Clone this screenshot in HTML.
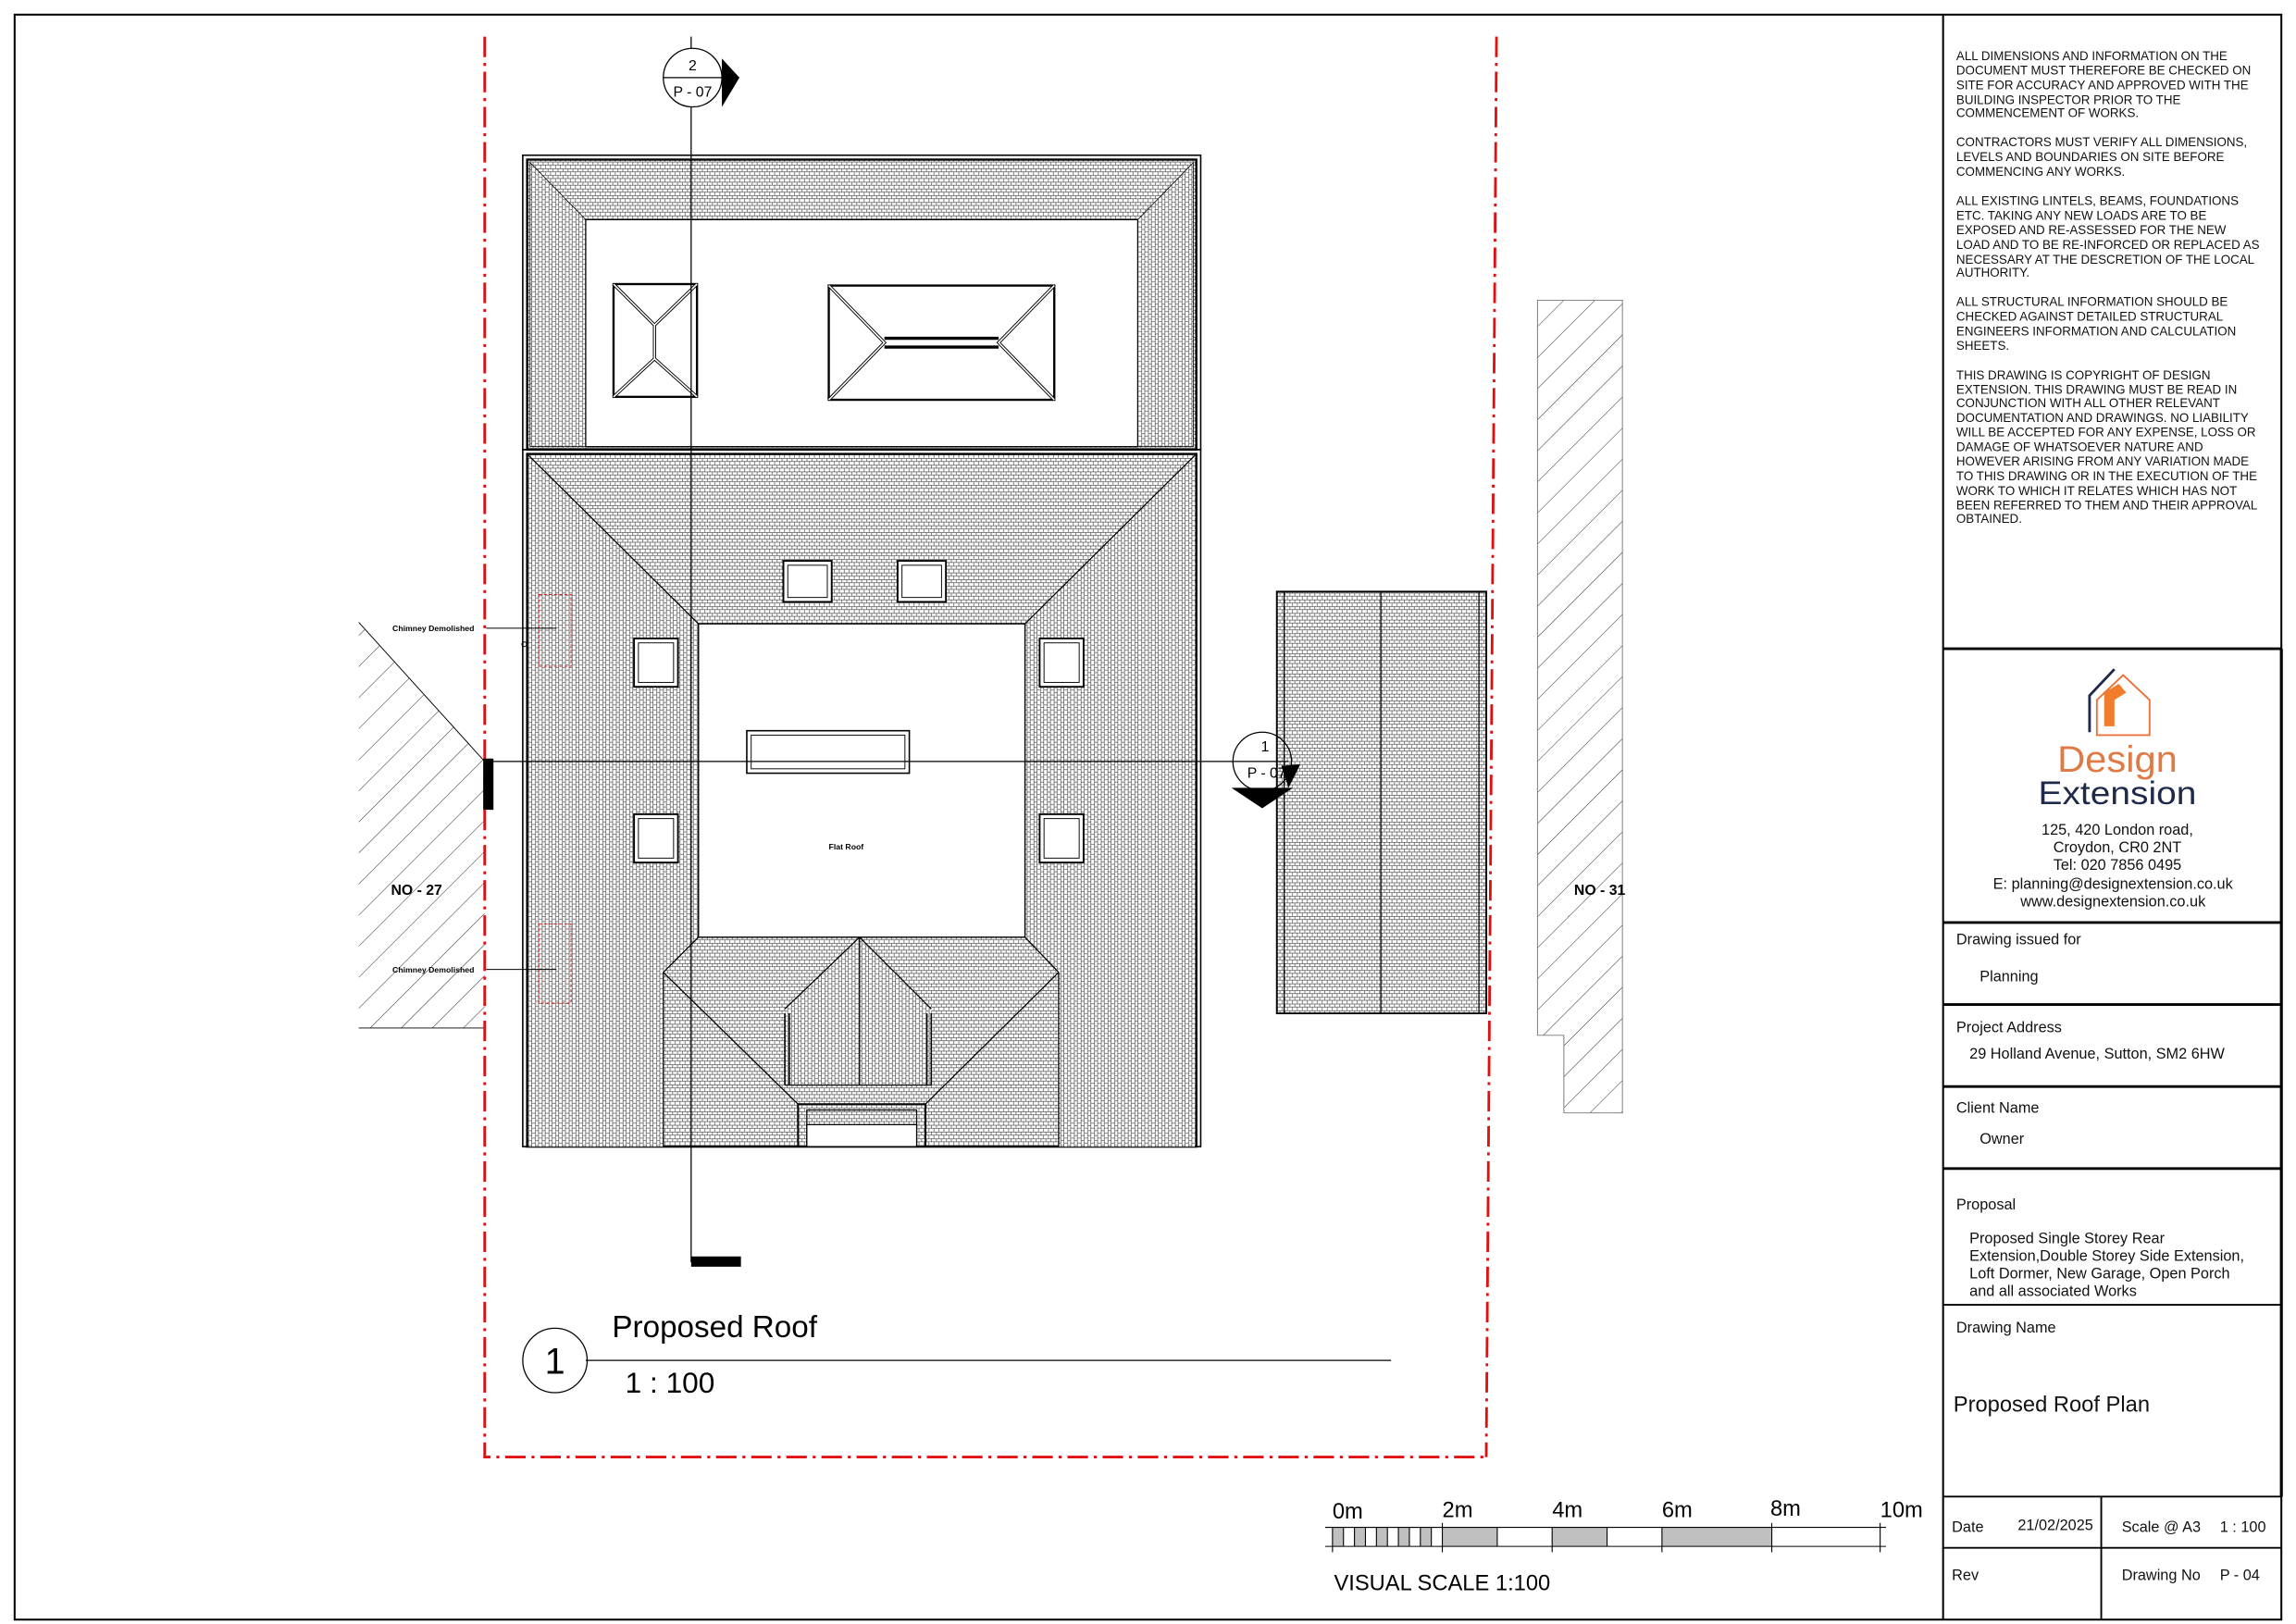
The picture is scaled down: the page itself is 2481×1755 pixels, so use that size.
<!DOCTYPE html>
<html><head><meta charset="utf-8"><style>
html,body{margin:0;padding:0;background:#fff}
svg{display:block}
text{font-family:"Liberation Sans",Arial,sans-serif}
</style></head><body>
<svg width="2481" height="1755" viewBox="0 0 1568 1109" preserveAspectRatio="none" xmlns="http://www.w3.org/2000/svg">
<defs>
<pattern id="tv" width="3.4" height="4.6" patternUnits="userSpaceOnUse">
<rect width="3.4" height="4.6" fill="#fff"/>
<path d="M0 0.25H3.4M0.3 0V2.3M2 2.3V4.6M0 2.3H3.4" stroke="#555" stroke-width="0.45" fill="none"/>
</pattern>
<pattern id="th" width="3.4" height="4.6" patternUnits="userSpaceOnUse" patternTransform="rotate(90)">
<rect width="3.4" height="4.6" fill="#fff"/>
<path d="M0 0.25H3.4M0.3 0V2.3M2 2.3V4.6M0 2.3H3.4" stroke="#555" stroke-width="0.45" fill="none"/>
</pattern>
<pattern id="hat" width="15" height="15" patternUnits="userSpaceOnUse" patternTransform="rotate(45)">
<line x1="0" y1="0" x2="0" y2="15" stroke="#222" stroke-width="0.6"/>
</pattern>
</defs>

<rect x="10" y="10" width="1548" height="1096" fill="none" stroke="#000" stroke-width="1.3"/>
<line x1="1327" y1="10" x2="1327" y2="1106" stroke="#000" stroke-width="1.3"/>
<g stroke="#000" stroke-width="1.2">
<line x1="1327" y1="443" x2="1558" y2="443" stroke-width="1.8"/>
<line x1="1327" y1="630" x2="1558" y2="630" stroke-width="1.8"/>
<line x1="1327" y1="686" x2="1558" y2="686" stroke-width="1.8"/>
<line x1="1327" y1="742" x2="1558" y2="742" stroke-width="1.8"/>
<line x1="1327" y1="798" x2="1558" y2="798" stroke-width="1.8"/>
<line x1="1327" y1="891" x2="1558" y2="891"/>
<line x1="1327" y1="1022" x2="1558" y2="1022"/>
<line x1="1327" y1="1057" x2="1558" y2="1057"/>
<line x1="1435" y1="1022" x2="1435" y2="1106"/>
<line x1="1558" y1="443" x2="1558" y2="1022" stroke-width="2"/>
</g>

<g font-size="8.45" fill="#111">
<text x="1336" y="41">ALL DIMENSIONS AND INFORMATION ON THE</text>
<text x="1336" y="51">DOCUMENT MUST THEREFORE BE CHECKED ON</text>
<text x="1336" y="61">SITE FOR ACCURACY AND APPROVED WITH THE</text>
<text x="1336" y="71">BUILDING INSPECTOR PRIOR TO THE</text>
<text x="1336" y="80">COMMENCEMENT OF WORKS.</text>
<text x="1336" y="100">CONTRACTORS MUST VERIFY ALL DIMENSIONS,</text>
<text x="1336" y="110">LEVELS AND BOUNDARIES ON SITE BEFORE</text>
<text x="1336" y="120">COMMENCING ANY WORKS.</text>
<text x="1336" y="140">ALL EXISTING LINTELS, BEAMS, FOUNDATIONS</text>
<text x="1336" y="150">ETC. TAKING ANY NEW LOADS ARE TO BE</text>
<text x="1336" y="160">EXPOSED AND RE-ASSESSED FOR THE NEW</text>
<text x="1336" y="170">LOAD AND TO BE RE-INFORCED OR REPLACED AS</text>
<text x="1336" y="180">NECESSARY AT THE DESCRETION OF THE LOCAL</text>
<text x="1336" y="189">AUTHORITY.</text>
<text x="1336" y="209">ALL STRUCTURAL INFORMATION SHOULD BE</text>
<text x="1336" y="219">CHECKED AGAINST DETAILED STRUCTURAL</text>
<text x="1336" y="229">ENGINEERS INFORMATION AND CALCULATION</text>
<text x="1336" y="239">SHEETS.</text>
<text x="1336" y="259">THIS DRAWING IS COPYRIGHT OF DESIGN</text>
<text x="1336" y="269">EXTENSION. THIS DRAWING MUST BE READ IN</text>
<text x="1336" y="278">CONJUNCTION WITH ALL OTHER RELEVANT</text>
<text x="1336" y="288">DOCUMENTATION AND DRAWINGS. NO LIABILITY</text>
<text x="1336" y="298">WILL BE ACCEPTED FOR ANY EXPENSE, LOSS OR</text>
<text x="1336" y="308">DAMAGE OF WHATSOEVER NATURE AND</text>
<text x="1336" y="318">HOWEVER ARISING FROM ANY VARIATION MADE</text>
<text x="1336" y="328">TO THIS DRAWING OR IN THE EXECUTION OF THE</text>
<text x="1336" y="338">WORK TO WHICH IT RELATES WHICH HAS NOT</text>
<text x="1336" y="348">BEEN REFERRED TO THEM AND THEIR APPROVAL</text>
<text x="1336" y="357">OBTAINED.</text>
</g>

<path d="M1444 457 L1427 475 L1427 500" fill="none" stroke="#1f2a4a" stroke-width="1.8"/>
<path d="M1432 502 V478 L1450 461 L1468 478 V502 Z" fill="none" stroke="#e8733a" stroke-width="1.2"/>
<path d="M1437 473 L1447 467 L1452 473 L1444 478 V496 H1437 Z" fill="#f07c2c"/>
<text x="1446" y="527" font-size="25" fill="#e07a45" text-anchor="middle" textLength="82" lengthAdjust="spacingAndGlyphs">Design</text>
<text x="1446" y="549" font-size="22" fill="#1f2a4a" text-anchor="middle" textLength="108" lengthAdjust="spacingAndGlyphs">Extension</text>
<g font-size="10.3" fill="#111" text-anchor="middle">
<text x="1446" y="570">125, 420 London road,</text>
<text x="1446" y="582">Croydon, CR0 2NT</text>
<text x="1446" y="594">Tel:   020 7856 0495</text>
<text x="1443" y="607">E: planning@designextension.co.uk</text>
<text x="1443" y="619">www.designextension.co.uk</text>
</g>

<g font-size="10.3" fill="#111">
<text x="1336" y="645">Drawing issued for</text>
<text x="1352" y="670">Planning</text>
<text x="1336" y="705">Project Address</text>
<text x="1345" y="723">29 Holland Avenue, Sutton, SM2 6HW</text>
<text x="1336" y="760">Client Name</text>
<text x="1352" y="781">Owner</text>
<text x="1336" y="826">Proposal</text>
<text x="1345" y="849">Proposed Single Storey Rear</text>
<text x="1345" y="861">Extension,Double Storey Side Extension,</text>
<text x="1345" y="873">Loft Dormer, New Garage, Open Porch</text>
<text x="1345" y="885">and all associated Works</text>
<text x="1336" y="910">Drawing Name</text>
<text x="1334" y="964" font-size="15">Proposed Roof Plan</text>
<text x="1333" y="1046">Date</text>
<text x="1378" y="1045">21/02/2025</text>
<text x="1449" y="1046">Scale @ A3</text>
<text x="1516" y="1046">1 : 100</text>
<text x="1333" y="1079">Rev</text>
<text x="1449" y="1079">Drawing No</text>
<text x="1516" y="1079">P - 04</text>
</g>

<path d="M245 425 L331 520 L331 702 L245 702 Z" fill="url(#hat)"/>
<path d="M245 425 L331 520" stroke="#000" stroke-width="0.6"/>
<line x1="245" y1="702" x2="331" y2="702" stroke="#000" stroke-width="0.6"/>
<path d="M1050 205 H1108 V760 H1068 V707 H1050 Z" fill="url(#hat)" stroke="#777" stroke-width="0.6"/>
<text x="267" y="611" font-size="10" font-weight="bold">NO - 27</text>
<text x="1075" y="611" font-size="10" font-weight="bold">NO - 31</text>

<rect x="872" y="404" width="143" height="288" fill="url(#tv)" stroke="#000" stroke-width="1.2"/>
<line x1="877" y1="404" x2="877" y2="692" stroke="#000" stroke-width="0.8"/>
<line x1="1010" y1="404" x2="1010" y2="692" stroke="#000" stroke-width="0.8"/>
<line x1="943" y1="404" x2="943" y2="692" stroke="#000" stroke-width="0.8"/>

<rect x="357" y="106" width="463" height="201" fill="none" stroke="#000" stroke-width="1"/>
<rect x="360" y="109" width="457" height="198" fill="url(#tv)" stroke="#000" stroke-width="1.5"/>
<path d="M362 111 L400 150 V305 H362 Z" fill="url(#th)" stroke="#000" stroke-width="0.5"/>
<path d="M815 111 L777 150 V305 H815 Z" fill="url(#th)" stroke="#000" stroke-width="0.5"/>
<rect x="400" y="150" width="377" height="155" fill="#fff" stroke="#000" stroke-width="0.8"/>
<rect x="419" y="194" width="57" height="77" fill="#fff" stroke="#000" stroke-width="1.5"/>
<g stroke="#000" stroke-width="2.2" fill="none"><path d="M419 194 L447 222 L476 194 M419 271 L447 245 L476 271 M447 222 V245"/></g>
<g stroke="#fff" stroke-width="1" fill="none"><path d="M419 194 L447 222 L476 194 M419 271 L447 245 L476 271 M447 222 V245"/></g>
<rect x="566" y="195" width="154" height="78" fill="#fff" stroke="#000" stroke-width="1.5"/>
<g stroke="#000" stroke-width="2.2" fill="none"><path d="M566 195 L604 234 L566 273 M720 195 L682 234 L720 273 M604 231 H682 M604 237 H682"/></g>
<g stroke="#fff" stroke-width="1" fill="none"><path d="M566 195 L604 234 L566 273 M720 195 L682 234 L720 273"/></g>

<rect x="357" y="307" width="463" height="476" fill="none" stroke="#000" stroke-width="1"/>
<rect x="360" y="310" width="457" height="473" fill="url(#tv)" stroke="#000" stroke-width="1.5"/>
<path d="M361 311 L477 426 V640 L453 664 V783 H361 Z" fill="url(#th)"/>
<path d="M816 311 L700 426 V640 L723 664 V783 H816 Z" fill="url(#th)"/>
<path d="M536 689 L587 640 L636 689 V741 H536 Z" fill="url(#th)"/>
<g stroke="#000" stroke-width="0.8" fill="none">
<path d="M361 311 L477 426 M816 311 L700 426"/>
<path d="M453 664 L477 640 M723 664 L700 640 M453 664 V783 M723 664 V783"/>
<path d="M453 664 L545 754 M723 664 L632 754"/>
<path d="M587 640 L536 689 M587 640 L636 689 M587 640 V741 M536 741 H636"/>
<path d="M536 692 V741 M539 692 V741 M633 692 V741 M636 692 V741" stroke-width="1"/>
</g>
<rect x="477" y="426" width="223" height="214" fill="#fff" stroke="#000" stroke-width="0.9"/>
<text x="566" y="580" font-size="5.5" font-weight="bold">Flat Roof</text>
<rect x="510" y="499" width="111" height="29" fill="#fff" stroke="#000" stroke-width="1"/>
<rect x="513" y="502" width="105" height="23" fill="none" stroke="#000" stroke-width="0.6"/>
<rect x="545" y="754" width="87" height="29" fill="url(#tv)" stroke="#000" stroke-width="1.2"/>
<rect x="551" y="758" width="75" height="25" fill="none" stroke="#000" stroke-width="0.8"/>
<rect x="551" y="768" width="75" height="15" fill="#fff" stroke="#000" stroke-width="0.8"/>
<g fill="#fff" stroke="#000" stroke-width="1.2">
<rect x="535" y="383" width="33" height="28"/><rect x="613" y="383" width="33" height="28"/>
<rect x="433" y="436" width="30" height="33"/><rect x="710" y="436" width="30" height="33"/>
<rect x="433" y="556" width="30" height="33"/><rect x="710" y="556" width="30" height="33"/>
</g>
<g fill="none" stroke="#000" stroke-width="0.6">
<rect x="538" y="386" width="27" height="22"/><rect x="616" y="386" width="27" height="22"/>
<rect x="436" y="439" width="24" height="27"/><rect x="713" y="439" width="24" height="27"/>
<rect x="436" y="559" width="24" height="27"/><rect x="713" y="559" width="24" height="27"/>
</g>

<rect x="368" y="406" width="22" height="49" fill="none" stroke="#d22" stroke-width="0.6" stroke-dasharray="2,1.5"/>
<rect x="368" y="631" width="22" height="54" fill="none" stroke="#d22" stroke-width="0.6" stroke-dasharray="2,1.5"/>
<text x="268" y="431" font-size="5.5" font-weight="bold">Chimney Demolished</text>
<text x="268" y="664" font-size="5.5" font-weight="bold">Chimney Demolished</text>
<line x1="332" y1="429" x2="380" y2="429" stroke="#000" stroke-width="0.6"/>
<line x1="332" y1="662" x2="380" y2="662" stroke="#000" stroke-width="0.6"/>
<circle cx="358" cy="440" r="1.6" fill="none" stroke="#000" stroke-width="0.6"/>

<g stroke="#e01010" stroke-width="1.8" fill="none" stroke-dasharray="14,4,2,4">
<path d="M331 25 V995 H1015"/>
<path d="M1022 25 L1015 995"/>
</g>

<line x1="472" y1="25" x2="472" y2="862" stroke="#000" stroke-width="0.8"/>
<rect x="472" y="858" width="34" height="7" fill="#000"/>
<circle cx="473" cy="53" r="20" fill="#fff" stroke="#000" stroke-width="0.8"/>
<line x1="453" y1="53" x2="493" y2="53" stroke="#000" stroke-width="0.8"/>
<path d="M493 40 L505 53 L493 73 Z" fill="#000"/>
<text x="473" y="48" font-size="10" text-anchor="middle">2</text>
<text x="473" y="66" font-size="10" text-anchor="middle">P - 07</text>

<line x1="331" y1="520" x2="880" y2="520" stroke="#000" stroke-width="0.8"/>
<rect x="330" y="518" width="7" height="35" fill="#000"/>
<circle cx="862" cy="520" r="20" fill="none" stroke="#000" stroke-width="0.8"/>
<path d="M841 538 L883 538 L862 552 Z" fill="#000"/>
<path d="M875 523 L888 522 L880 538 Z" fill="#000"/>
<text x="864" y="513" font-size="10" text-anchor="middle">1</text>
<text x="865" y="531" font-size="10" text-anchor="middle">P - 07</text>

<circle cx="379" cy="929" r="22" fill="#fff" stroke="#000" stroke-width="0.8"/>
<text x="379" y="938" font-size="25" text-anchor="middle">1</text>
<text x="418" y="913" font-size="21">Proposed Roof</text>
<line x1="400" y1="929" x2="950" y2="929" stroke="#000" stroke-width="0.8"/>
<text x="427" y="951" font-size="20">1 : 100</text>

<g font-size="15">
<text x="910" y="1037">0m</text><text x="985" y="1036">2m</text><text x="1060" y="1036">4m</text>
<text x="1135" y="1036">6m</text><text x="1209" y="1035">8m</text><text x="1284" y="1036">10m</text>
</g>
<g fill="#c0c0c0">
<rect x="910" y="1043" width="7.5" height="13"/><rect x="925" y="1043" width="7.5" height="13"/>
<rect x="940" y="1043" width="7.5" height="13"/><rect x="955" y="1043" width="7.5" height="13"/>
<rect x="970" y="1043" width="7.5" height="13"/>
<rect x="985" y="1043" width="37.5" height="13"/><rect x="1060" y="1043" width="37.5" height="13"/>
<rect x="1135" y="1043" width="75" height="13"/>
</g>
<g stroke="#000" stroke-width="0.7">
<line x1="905" y1="1043" x2="1288" y2="1043"/><line x1="905" y1="1056" x2="1288" y2="1056"/>
<line x1="910" y1="1043" x2="910" y2="1060"/>
<line x1="917.5" y1="1043" x2="917.5" y2="1056"/><line x1="925" y1="1043" x2="925" y2="1056"/>
<line x1="932.5" y1="1043" x2="932.5" y2="1056"/><line x1="940" y1="1043" x2="940" y2="1056"/>
<line x1="947.5" y1="1043" x2="947.5" y2="1056"/><line x1="955" y1="1043" x2="955" y2="1056"/>
<line x1="962.5" y1="1043" x2="962.5" y2="1056"/><line x1="970" y1="1043" x2="970" y2="1056"/>
<line x1="977.5" y1="1043" x2="977.5" y2="1056"/>
<line x1="985" y1="1040" x2="985" y2="1060"/><line x1="1022.5" y1="1043" x2="1022.5" y2="1056"/>
<line x1="1060" y1="1043" x2="1060" y2="1060"/><line x1="1097.5" y1="1043" x2="1097.5" y2="1056"/>
<line x1="1135" y1="1043" x2="1135" y2="1060"/><line x1="1210" y1="1040" x2="1210" y2="1060"/>
<line x1="1284" y1="1040" x2="1284" y2="1060"/>
</g>
<text x="911" y="1086" font-size="15">VISUAL SCALE 1:100</text>
</svg>
</body></html>
